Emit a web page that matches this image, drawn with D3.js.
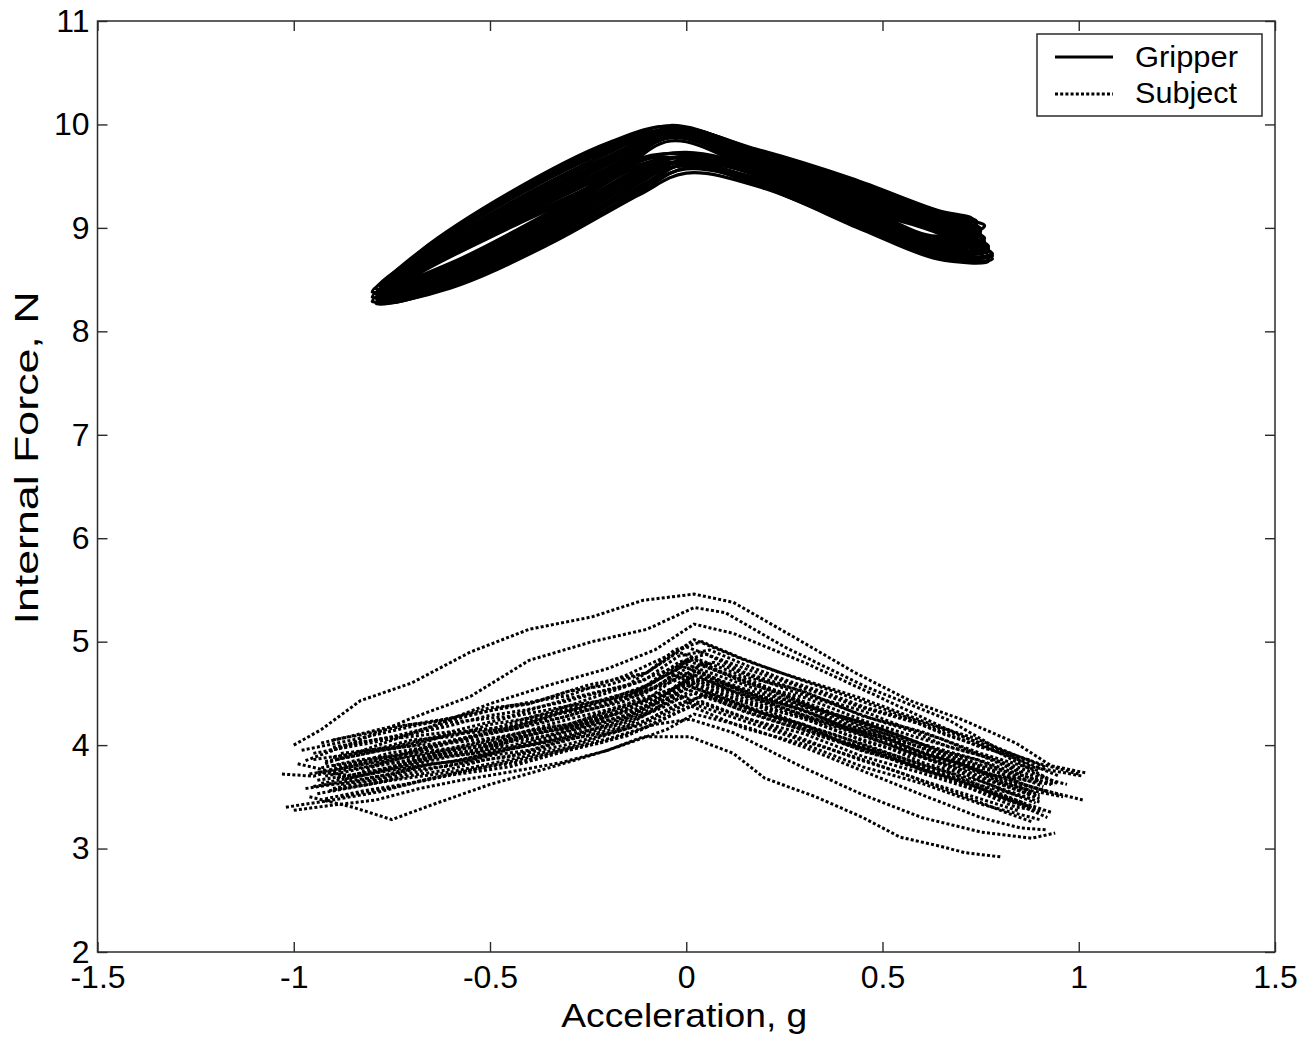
<!DOCTYPE html>
<html><head><meta charset="utf-8">
<script src="https://cdn.jsdelivr.net/npm/d3@7"></script>
<style>body{margin:0;background:#fff}svg{display:block}</style></head>
<body><svg id="c" width="1313" height="1041"></svg>
<script>
// ---------- data ----------
const xDomain=[-1.5,1.5];
const yDomain=[2,11];
const xTicks=[-1.5,-1,-0.5,0,0.5,1,1.5];
const xTickLabels=["-1.5","-1","-0.5","0","0.5","1","1.5"];
const yTicks=[2,3,4,5,6,7,8,9,10,11];
const yTickLabels=["2","3","4","5","6","7","8","9","10","11"];
const xTitle="Acceleration, g";
const yTitle="Internal Force, N";
const legendLabels=["Gripper","Subject"];

// Gripper: closed hysteresis loops [acceleration g, force N]
const gripperLoops=[
 [[-0.79,8.27],[-0.60,8.42],[-0.35,8.84],[-0.12,9.32],[0.00,9.53],[0.20,9.38],[0.45,8.98],[0.64,8.70],[0.77,8.68],[0.64,8.95],[0.42,9.20],[0.18,9.55],[-0.04,9.84],[-0.20,9.45],[-0.45,9.00],[-0.68,8.56]],
 [[-0.77,8.28],[-0.60,8.43],[-0.35,8.86],[-0.12,9.34],[0.00,9.58],[0.20,9.46],[0.45,9.07],[0.64,8.79],[0.75,8.85],[0.64,9.04],[0.42,9.32],[0.18,9.64],[-0.04,9.88],[-0.20,9.47],[-0.45,9.02],[-0.68,8.57]],
 [[-0.80,8.29],[-0.60,8.45],[-0.35,8.88],[-0.12,9.36],[0.00,9.64],[0.20,9.55],[0.45,9.16],[0.64,8.88],[0.76,9.02],[0.64,9.13],[0.42,9.44],[0.18,9.73],[-0.04,9.92],[-0.20,9.49],[-0.45,9.04],[-0.68,8.59]],
 [[-0.78,8.30],[-0.60,8.46],[-0.35,8.90],[-0.12,9.38],[0.00,9.57],[0.20,9.42],[0.45,9.02],[0.64,8.74],[0.78,8.75],[0.64,8.99],[0.42,9.25],[0.18,9.59],[-0.04,9.87],[-0.20,9.52],[-0.45,9.06],[-0.68,8.60]],
 [[-0.76,8.31],[-0.60,8.48],[-0.35,8.91],[-0.12,9.40],[0.00,9.62],[0.20,9.50],[0.45,9.11],[0.64,8.83],[0.74,8.92],[0.64,9.08],[0.42,9.37],[0.18,9.68],[-0.04,9.91],[-0.20,9.54],[-0.45,9.08],[-0.68,8.61]],
 [[-0.79,8.32],[-0.60,8.49],[-0.35,8.93],[-0.12,9.43],[0.00,9.67],[0.20,9.58],[0.45,9.20],[0.64,8.92],[0.73,9.08],[0.64,9.17],[0.42,9.48],[0.18,9.76],[-0.04,9.95],[-0.20,9.56],[-0.45,9.10],[-0.68,8.62]],
 [[-0.77,8.32],[-0.60,8.51],[-0.35,8.95],[-0.12,9.45],[0.00,9.61],[0.20,9.45],[0.45,9.06],[0.64,8.78],[0.77,8.82],[0.64,9.03],[0.42,9.30],[0.18,9.63],[-0.04,9.90],[-0.20,9.58],[-0.45,9.12],[-0.68,8.64]],
 [[-0.80,8.33],[-0.60,8.52],[-0.35,8.97],[-0.12,9.47],[0.00,9.66],[0.20,9.54],[0.45,9.15],[0.64,8.87],[0.75,8.99],[0.64,9.12],[0.42,9.42],[0.18,9.71],[-0.04,9.94],[-0.20,9.61],[-0.45,9.14],[-0.68,8.65]],
 [[-0.78,8.34],[-0.60,8.54],[-0.35,8.99],[-0.12,9.49],[0.00,9.60],[0.20,9.40],[0.45,9.01],[0.64,8.73],[0.78,8.73],[0.64,8.98],[0.42,9.23],[0.18,9.58],[-0.04,9.89],[-0.20,9.63],[-0.45,9.16],[-0.68,8.66]],
 [[-0.76,8.35],[-0.60,8.55],[-0.35,9.01],[-0.12,9.51],[0.00,9.65],[0.20,9.49],[0.45,9.10],[0.64,8.82],[0.76,8.90],[0.64,9.07],[0.42,9.35],[0.18,9.66],[-0.04,9.93],[-0.20,9.65],[-0.45,9.18],[-0.68,8.67]],
 [[-0.79,8.36],[-0.60,8.56],[-0.35,9.03],[-0.12,9.53],[0.00,9.70],[0.20,9.57],[0.45,9.19],[0.64,8.91],[0.74,9.06],[0.64,9.16],[0.42,9.47],[0.18,9.75],[-0.04,9.97],[-0.20,9.67],[-0.45,9.20],[-0.68,8.69]],
 [[-0.77,8.37],[-0.60,8.58],[-0.35,9.04],[-0.12,9.55],[0.00,9.64],[0.20,9.44],[0.45,9.05],[0.64,8.77],[0.77,8.80],[0.64,9.02],[0.42,9.28],[0.18,9.61],[-0.04,9.92],[-0.20,9.69],[-0.45,9.22],[-0.68,8.70]],
 [[-0.80,8.38],[-0.60,8.59],[-0.35,9.06],[-0.12,9.57],[0.00,9.69],[0.20,9.52],[0.45,9.14],[0.64,8.86],[0.75,8.97],[0.64,9.11],[0.42,9.40],[0.18,9.70],[-0.04,9.96],[-0.20,9.72],[-0.45,9.24],[-0.68,8.71]],
 [[-0.78,8.39],[-0.60,8.61],[-0.35,9.08],[-0.12,9.59],[0.00,9.62],[0.20,9.39],[0.45,8.99],[0.64,8.71],[0.78,8.70],[0.64,8.96],[0.42,9.22],[0.18,9.56],[-0.04,9.91],[-0.20,9.74],[-0.45,9.27],[-0.68,8.72]],
 [[-0.76,8.40],[-0.60,8.62],[-0.35,9.10],[-0.12,9.61],[0.00,9.68],[0.20,9.48],[0.45,9.09],[0.64,8.81],[0.76,8.87],[0.64,9.06],[0.42,9.33],[0.18,9.65],[-0.04,9.95],[-0.20,9.76],[-0.45,9.29],[-0.68,8.74]],
 [[-0.79,8.41],[-0.60,8.64],[-0.35,9.12],[-0.12,9.64],[0.00,9.73],[0.20,9.56],[0.45,9.18],[0.64,8.90],[0.74,9.04],[0.64,9.15],[0.42,9.45],[0.18,9.74],[-0.04,9.99],[-0.20,9.78],[-0.45,9.31],[-0.68,8.75]],
 [[-0.77,8.41],[-0.60,8.65],[-0.35,9.13],[-0.12,9.65],[0.00,9.66],[0.20,9.43],[0.45,9.03],[0.64,8.75],[0.77,8.78],[0.64,9.00],[0.42,9.27],[0.18,9.60],[-0.04,9.94],[-0.20,9.80],[-0.45,9.32],[-0.68,8.76]],
 [[-0.78,8.42],[-0.60,8.66],[-0.35,9.15],[-0.12,9.67],[0.00,9.71],[0.20,9.51],[0.45,9.13],[0.64,8.85],[0.75,8.94],[0.64,9.10],[0.42,9.38],[0.18,9.69],[-0.04,9.98],[-0.20,9.82],[-0.45,9.34],[-0.68,8.77]]
];

// Subject: dotted traces [acceleration g, force N]
const subjectTraces=[
 [[-1.0,4.00],[-0.93,4.15],[-0.83,4.43],[-0.7,4.60],[-0.55,4.90],[-0.4,5.12],[-0.24,5.24],[-0.11,5.40],[0.02,5.46],[0.12,5.38],[0.29,5.01],[0.43,4.70],[0.57,4.43],[0.7,4.25],[0.84,4.02],[0.93,3.80],[1.02,3.73]],
 [[-0.97,3.85],[-0.85,4.02],[-0.7,4.26],[-0.55,4.47],[-0.4,4.82],[-0.24,5.00],[-0.1,5.12],[0.02,5.33],[0.1,5.28],[0.25,4.95],[0.46,4.56],[0.67,4.24],[0.8,3.95],[0.88,3.79],[1.01,3.70]],
 [[-0.92,3.82],[-0.8,3.98],[-0.65,4.18],[-0.5,4.40],[-0.35,4.58],[-0.2,4.74],[-0.08,4.92],[0.02,5.17],[0.12,5.08],[0.3,4.80],[0.5,4.45],[0.65,4.18],[0.8,3.92],[0.95,3.62]],
 [[-1.03,3.72],[-0.95,3.70],[-0.85,3.80],[-0.7,3.92],[-0.55,4.08],[-0.4,4.22],[-0.25,4.40],[-0.1,4.56],[0.0,4.82],[0.15,4.62],[0.3,4.40],[0.5,4.12],[0.7,3.82],[0.85,3.62],[1.01,3.47]],
 [[-1.0,3.37],[-0.9,3.42],[-0.79,3.47],[-0.68,3.58],[-0.575,3.66],[-0.45,3.74],[-0.32,3.83],[-0.2,3.95],[-0.11,4.08],[0.01,4.08],[0.12,3.92],[0.2,3.68],[0.33,3.50],[0.45,3.30],[0.545,3.11],[0.65,3.02],[0.71,2.96],[0.8,2.92]],
 [[-1.02,3.40],[-0.9,3.47],[-0.78,3.55],[-0.65,3.68],[-0.5,3.80],[-0.35,3.92],[-0.2,4.06],[-0.08,4.20],[0.01,4.25],[0.12,4.12],[0.3,3.78],[0.45,3.52],[0.6,3.30],[0.75,3.16],[0.88,3.10],[0.94,3.15]],
 [[-0.96,3.50],[-0.85,3.40],[-0.75,3.28],[-0.65,3.42],[-0.5,3.62],[-0.35,3.78],[-0.2,3.95],[-0.05,4.15],[0.02,4.30],[0.15,4.18],[0.3,3.98],[0.45,3.75],[0.6,3.52],[0.75,3.30],[0.85,3.20],[0.92,3.18]],
 [[-0.93,4.02],[-0.75,4.18],[-0.6,4.24],[-0.45,4.38],[-0.3,4.48],[-0.15,4.68],[0.0,4.95],[0.15,4.74],[0.3,4.55],[0.45,4.36],[0.6,4.20],[0.75,3.98],[0.88,3.85]],
 [[-0.9,3.98],[-0.75,4.08],[-0.6,4.22],[-0.45,4.28],[-0.3,4.45],[-0.15,4.58],[-0.02,4.90],[0.15,4.66],[0.3,4.52],[0.45,4.28],[0.6,4.13],[0.75,3.92],[0.9,3.75]],
 [[-0.95,3.92],[-0.75,4.06],[-0.6,4.13],[-0.45,4.27],[-0.3,4.38],[-0.15,4.57],[0.02,4.83],[0.15,4.60],[0.3,4.46],[0.45,4.24],[0.6,4.06],[0.75,3.90],[0.86,3.72]],
 [[-0.88,3.92],[-0.75,3.98],[-0.6,4.12],[-0.45,4.18],[-0.3,4.36],[-0.15,4.48],[0.0,4.78],[0.15,4.58],[0.3,4.38],[0.45,4.22],[0.6,4.01],[0.75,3.85],[0.9,3.65]],
 [[-0.92,3.84],[-0.75,3.97],[-0.6,4.03],[-0.45,4.17],[-0.3,4.28],[-0.15,4.46],[0.03,4.72],[0.15,4.51],[0.3,4.37],[0.45,4.14],[0.6,3.98],[0.75,3.78],[0.87,3.66]],
 [[-0.9,3.80],[-0.75,3.89],[-0.6,4.02],[-0.45,4.09],[-0.3,4.25],[-0.15,4.39],[-0.03,4.68],[0.15,4.48],[0.3,4.29],[0.45,4.12],[0.6,3.91],[0.75,3.75],[0.92,3.55]],
 [[-0.96,3.72],[-0.75,3.86],[-0.6,3.94],[-0.45,4.06],[-0.3,4.18],[-0.15,4.36],[0.01,4.62],[0.15,4.41],[0.3,4.26],[0.45,4.04],[0.6,3.88],[0.75,3.68],[0.88,3.52]],
 [[-0.89,3.68],[-0.75,3.79],[-0.6,3.91],[-0.45,3.99],[-0.3,4.15],[-0.15,4.29],[0.0,4.58],[0.15,4.38],[0.3,4.19],[0.45,4.01],[0.6,3.81],[0.75,3.65],[0.9,3.45]],
 [[-0.93,3.63],[-0.75,3.76],[-0.6,3.84],[-0.45,3.96],[-0.3,4.08],[-0.15,4.26],[0.02,4.50],[0.15,4.33],[0.3,4.14],[0.45,3.95],[0.6,3.78],[0.75,3.58],[0.86,3.44]],
 [[-0.9,3.58],[-0.75,3.69],[-0.6,3.81],[-0.45,3.89],[-0.3,4.05],[-0.15,4.19],[-0.02,4.48],[0.15,4.26],[0.3,4.11],[0.45,3.89],[0.6,3.73],[0.75,3.55],[0.89,3.38]],
 [[-0.94,3.53],[-0.75,3.66],[-0.6,3.74],[-0.45,3.86],[-0.3,3.98],[-0.15,4.16],[0.0,4.42],[0.15,4.23],[0.3,4.04],[0.45,3.86],[0.6,3.66],[0.75,3.48],[0.85,3.36]],
 [[-0.88,3.50],[-0.75,3.59],[-0.6,3.71],[-0.45,3.79],[-0.3,3.95],[-0.15,4.09],[0.01,4.38],[0.15,4.16],[0.3,4.01],[0.45,3.79],[0.6,3.63],[0.75,3.43],[0.9,3.28]],
 [[-0.91,3.76],[-0.75,3.90],[-0.6,3.97],[-0.45,4.10],[-0.3,4.20],[-0.15,4.40],[0.04,4.64],[0.15,4.47],[0.3,4.27],[0.45,4.09],[0.6,3.89],[0.75,3.73],[0.93,3.62]],
 [[-0.95,3.86],[-0.75,3.97],[-0.6,4.10],[-0.45,4.16],[-0.3,4.33],[-0.15,4.47],[-0.01,4.76],[0.15,4.54],[0.3,4.39],[0.45,4.17],[0.6,4.01],[0.75,3.81],[0.94,3.62]],
 [[-0.87,3.67],[-0.75,3.77],[-0.6,3.89],[-0.45,3.97],[-0.3,4.13],[-0.15,4.27],[0.0,4.54],[0.15,4.36],[0.3,4.17],[0.45,3.97],[0.6,3.79],[0.75,3.61],[0.88,3.48]],
 [[-0.98,3.95],[-0.85,4.05],[-0.7,4.18],[-0.55,4.30],[-0.4,4.40],[-0.25,4.58],[-0.1,4.70],[0.02,5.02],[0.15,4.82],[0.3,4.62],[0.45,4.42],[0.6,4.22],[0.75,4.02],[0.9,3.82],[1.0,3.72]],
 [[-0.92,3.70],[-0.82,3.78],[-0.72,3.84],[-0.62,3.95],[-0.52,3.99],[-0.42,4.10],[-0.32,4.16],[-0.22,4.27],[-0.12,4.34],[-0.04,4.52],[0.03,4.70],[0.12,4.55],[0.22,4.43],[0.32,4.30],[0.42,4.15],[0.52,4.05],[0.62,3.90],[0.72,3.80],[0.82,3.62],[0.9,3.50]],
 [[-0.9,3.88],[-0.8,3.95],[-0.7,4.05],[-0.6,4.08],[-0.5,4.20],[-0.4,4.26],[-0.3,4.38],[-0.2,4.44],[-0.1,4.58],[-0.02,4.80],[0.05,4.88],[0.15,4.70],[0.25,4.58],[0.35,4.44],[0.45,4.33],[0.55,4.18],[0.65,4.06],[0.75,3.90],[0.85,3.78],[0.92,3.68]],
 [[-0.95,3.60],[-0.85,3.66],[-0.75,3.72],[-0.65,3.82],[-0.55,3.86],[-0.45,3.96],[-0.35,4.03],[-0.25,4.12],[-0.15,4.22],[-0.05,4.38],[0.02,4.55],[0.1,4.45],[0.2,4.30],[0.3,4.20],[0.4,4.02],[0.5,3.92],[0.6,3.76],[0.7,3.66],[0.8,3.50],[0.88,3.40]],
 [[-0.86,3.80],[-0.76,3.92],[-0.66,3.98],[-0.56,4.06],[-0.46,4.14],[-0.36,4.22],[-0.26,4.33],[-0.16,4.42],[-0.06,4.60],[0.01,4.85],[0.08,4.72],[0.18,4.60],[0.28,4.45],[0.38,4.30],[0.48,4.18],[0.58,4.04],[0.68,3.88],[0.78,3.76],[0.86,3.62],[0.95,3.52]],
 [[-0.93,3.78],[-0.83,3.86],[-0.73,3.90],[-0.63,4.02],[-0.53,4.10],[-0.43,4.16],[-0.33,4.30],[-0.23,4.36],[-0.13,4.48],[-0.03,4.62],[0.04,4.78],[0.14,4.62],[0.24,4.50],[0.34,4.34],[0.44,4.22],[0.54,4.10],[0.64,3.95],[0.74,3.86],[0.84,3.70],[0.91,3.60]],
 [[-0.88,3.62],[-0.78,3.70],[-0.68,3.80],[-0.58,3.85],[-0.48,3.95],[-0.38,4.02],[-0.28,4.12],[-0.18,4.20],[-0.08,4.34],[0.0,4.60],[0.08,4.50],[0.18,4.38],[0.28,4.22],[0.38,4.10],[0.48,3.96],[0.58,3.84],[0.68,3.72],[0.78,3.56],[0.86,3.44],[0.93,3.35]],
 [[-0.91,3.95],[-0.81,4.04],[-0.71,4.10],[-0.61,4.18],[-0.51,4.28],[-0.41,4.34],[-0.31,4.42],[-0.21,4.52],[-0.11,4.62],[-0.02,4.86],[0.06,4.92],[0.16,4.76],[0.26,4.62],[0.36,4.50],[0.46,4.36],[0.56,4.26],[0.66,4.10],[0.76,3.98],[0.86,3.84],[0.95,3.70]],
 [[-0.94,3.66],[-0.84,3.72],[-0.74,3.78],[-0.64,3.88],[-0.54,3.92],[-0.44,4.04],[-0.34,4.10],[-0.24,4.20],[-0.14,4.30],[-0.04,4.46],[0.03,4.62],[0.11,4.50],[0.21,4.36],[0.31,4.24],[0.41,4.10],[0.51,3.98],[0.61,3.82],[0.71,3.72],[0.81,3.56],[0.89,3.44]],
 [[-0.97,3.58],[-0.9,3.62],[-0.8,3.66],[-0.7,3.76],[-0.6,3.80],[-0.5,3.90],[-0.4,3.95],[-0.3,4.06],[-0.2,4.12],[-0.1,4.24],[-0.02,4.40],[0.05,4.48],[0.15,4.32],[0.25,4.20],[0.35,4.10],[0.45,3.94],[0.55,3.84],[0.65,3.70],[0.75,3.58],[0.85,3.42],[0.92,3.30]],
 [[-0.9,4.05],[-0.8,4.12],[-0.7,4.20],[-0.6,4.26],[-0.5,4.36],[-0.4,4.40],[-0.3,4.52],[-0.2,4.58],[-0.1,4.70],[-0.03,4.92],[0.04,5.00],[0.14,4.84],[0.24,4.70],[0.34,4.58],[0.44,4.46],[0.54,4.32],[0.64,4.18],[0.74,4.06],[0.84,3.90],[0.92,3.78]],
 [[-0.85,3.70],[-0.78,3.82],[-0.68,3.86],[-0.58,3.96],[-0.48,4.00],[-0.38,4.12],[-0.28,4.18],[-0.18,4.30],[-0.08,4.40],[0.0,4.66],[0.1,4.58],[0.2,4.44],[0.3,4.34],[0.4,4.18],[0.5,4.08],[0.6,3.92],[0.7,3.82],[0.8,3.64],[0.88,3.56],[0.96,3.50]],
 [[-0.99,3.82],[-0.9,3.74],[-0.8,3.80],[-0.7,3.90],[-0.6,3.96],[-0.5,4.04],[-0.4,4.14],[-0.3,4.20],[-0.2,4.32],[-0.1,4.44],[-0.01,4.70],[0.08,4.62],[0.18,4.48],[0.28,4.36],[0.38,4.22],[0.48,4.12],[0.58,3.96],[0.68,3.84],[0.78,3.70],[0.86,3.58],[0.9,3.52]],
 [[-0.92,3.48],[-0.82,3.56],[-0.72,3.62],[-0.62,3.70],[-0.52,3.78],[-0.42,3.84],[-0.32,3.94],[-0.22,4.02],[-0.12,4.14],[-0.03,4.30],[0.04,4.42],[0.14,4.28],[0.24,4.14],[0.34,4.00],[0.44,3.86],[0.54,3.74],[0.64,3.60],[0.74,3.46],[0.82,3.34],[0.88,3.26]],
 [[-0.89,3.86],[-0.79,3.94],[-0.69,4.00],[-0.59,4.12],[-0.49,4.16],[-0.39,4.28],[-0.29,4.34],[-0.19,4.46],[-0.09,4.54],[0.0,4.74],[0.07,4.80],[0.17,4.66],[0.27,4.52],[0.37,4.40],[0.47,4.26],[0.57,4.14],[0.67,3.98],[0.77,3.88],[0.87,3.72],[0.97,3.62]],
 [[-0.94,3.74],[-0.84,3.70],[-0.74,3.80],[-0.64,3.90],[-0.54,3.95],[-0.44,4.06],[-0.34,4.14],[-0.24,4.22],[-0.14,4.36],[-0.05,4.50],[0.02,4.68],[0.12,4.52],[0.22,4.40],[0.32,4.26],[0.42,4.14],[0.52,4.00],[0.62,3.86],[0.72,3.74],[0.82,3.60],[0.9,3.48]],
 [[-0.91,3.56],[-0.81,3.62],[-0.71,3.70],[-0.61,3.76],[-0.51,3.86],[-0.41,3.92],[-0.31,4.00],[-0.21,4.10],[-0.11,4.20],[-0.02,4.36],[0.05,4.50],[0.15,4.36],[0.25,4.24],[0.35,4.08],[0.45,3.98],[0.55,3.82],[0.65,3.70],[0.75,3.54],[0.84,3.40],[0.91,3.36]]
];

// ---------- drawing ----------
const svg=d3.select("#c");
const M={left:97.5,right:1275,top:21,bottom:952};
const x=d3.scaleLinear().domain(xDomain).range([M.left,M.right]);
const y=d3.scaleLinear().domain(yDomain).range([M.bottom,M.top]);
const FONT="'Liberation Sans', Arial, Helvetica, sans-serif";
const AX="#2b2b2b";

svg.append("rect").attr("width",1313).attr("height",1041).attr("fill","#fff");

const plot=svg.append("g");
const closedLine=d3.line().x(d=>x(d[0])).y(d=>y(d[1])).curve(d3.curveCatmullRomClosed.alpha(0.5));
const openLine=d3.line().x(d=>x(d[0])).y(d=>y(d[1]));

plot.selectAll("path.sub").data(subjectTraces).join("path").attr("class","sub")
 .attr("d",openLine).attr("fill","none").attr("stroke","#000")
 .attr("stroke-width",3).attr("stroke-dasharray","3,2.2");

plot.selectAll("path.grip").data(gripperLoops).join("path").attr("class","grip")
 .attr("d",closedLine).attr("fill","none").attr("stroke","#000")
 .attr("stroke-width",3.2).attr("stroke-linejoin","round");

// axes (inward ticks)
function styleAxis(g){
  g.select(".domain").remove();
  g.selectAll(".tick line").attr("stroke",AX).attr("stroke-width",1.4);
  g.selectAll("text").attr("font-family",FONT).attr("font-size",32).attr("fill","#000");
}
svg.append("g").attr("transform",`translate(0,${M.bottom})`)
 .call(d3.axisBottom(x).tickValues(xTicks).tickSize(-10).tickPadding(13).tickFormat((d,i)=>xTickLabels[i]))
 .call(styleAxis);
svg.append("g").attr("transform",`translate(0,${M.top})`)
 .call(d3.axisTop(x).tickValues(xTicks).tickSize(-10).tickFormat(""))
 .call(styleAxis);
svg.append("g").attr("transform",`translate(${M.left},0)`)
 .call(d3.axisLeft(y).tickValues(yTicks).tickSize(-10).tickPadding(8).tickFormat((d,i)=>yTickLabels[i]))
 .call(styleAxis);
svg.append("g").attr("transform",`translate(${M.right},0)`)
 .call(d3.axisRight(y).tickValues(yTicks).tickSize(-10).tickFormat(""))
 .call(styleAxis);

svg.append("rect").attr("x",M.left).attr("y",M.top)
 .attr("width",M.right-M.left).attr("height",M.bottom-M.top)
 .attr("fill","none").attr("stroke",AX).attr("stroke-width",1.5);

// titles
svg.append("text").attr("x",(M.left+M.right)/2-2).attr("y",1027)
 .attr("text-anchor","middle").attr("font-family",FONT).attr("font-size",34)
 .attr("textLength",246).attr("lengthAdjust","spacingAndGlyphs").text(xTitle);
svg.append("text").attr("transform","translate(38,458) rotate(-90)")
 .attr("text-anchor","middle").attr("font-family",FONT).attr("font-size",34)
 .attr("textLength",333).attr("lengthAdjust","spacingAndGlyphs").text(yTitle);

// legend
const lg=svg.append("g");
lg.append("rect").attr("x",1037).attr("y",34).attr("width",225).attr("height",82)
 .attr("fill","#fff").attr("stroke",AX).attr("stroke-width",1.5);
lg.append("line").attr("x1",1055).attr("x2",1113).attr("y1",57).attr("y2",57)
 .attr("stroke","#000").attr("stroke-width",3);
lg.append("line").attr("x1",1055).attr("x2",1113).attr("y1",94).attr("y2",94)
 .attr("stroke","#000").attr("stroke-width",3).attr("stroke-dasharray","3,2.2");
lg.selectAll("text.lt").data(legendLabels).join("text").attr("class","lt")
 .attr("x",1135).attr("y",(d,i)=>i===0?67:103)
 .attr("font-family",FONT).attr("font-size",29).attr("textLength",(d,i)=>i===0?103:102)
 .attr("lengthAdjust","spacingAndGlyphs").text(d=>d);
</script></body></html>
